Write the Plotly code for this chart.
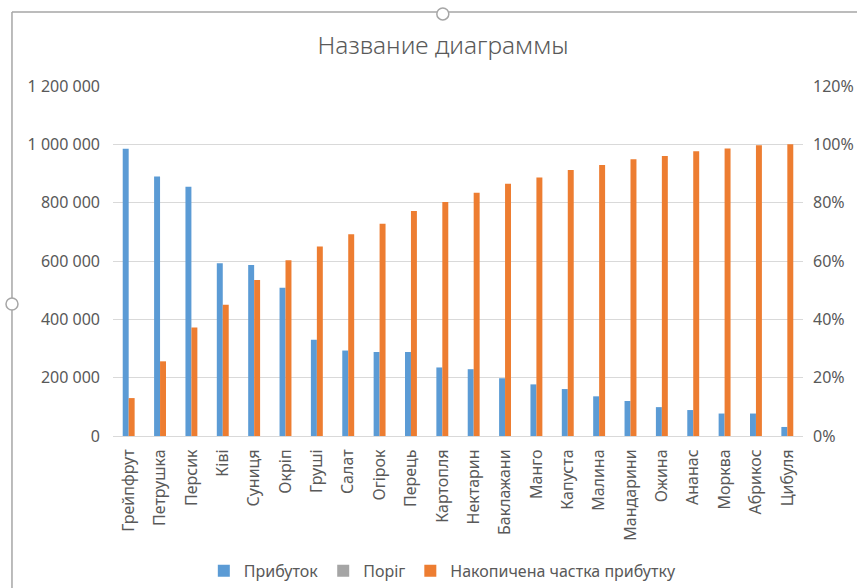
import plotly.graph_objects as go

categories = ["Грейпфрут", "Петрушка", "Персик", "Ківі", "Суниця", "Окріп", "Груші",
              "Салат", "Огірок", "Перець", "Картопля", "Нектарин", "Баклажани", "Манго",
              "Капуста", "Малина", "Мандарини", "Ожина", "Ананас", "Морква", "Абрикос", "Цибуля"]
profit = [985000, 890000, 855000, 592000, 586000, 508000, 330000, 293000, 288000, 288000,
          235000, 229000, 198000, 177000, 161000, 136000, 120000, 99000, 89000, 77000, 77000, 31000]
threshold = [0] * 22
cum_share = [0.130, 0.256, 0.372, 0.450, 0.535, 0.603, 0.650, 0.692, 0.728, 0.771,
             0.802, 0.834, 0.865, 0.886, 0.912, 0.929, 0.949, 0.960, 0.976, 0.986, 0.997, 1.000]
left_ticks = [0, 200000, 400000, 600000, 800000, 1000000, 1200000]
left_labels = ["0", "200 000", "400 000", "600 000", "800 000", "1 000 000", "1 200 000"]
right_ticks = [0, 0.2, 0.4, 0.6, 0.8, 1.0, 1.2]
right_labels = ["0%", "20%", "40%", "60%", "80%", "100%", "120%"]

FONT = "Noto Sans"
TXT = "#595959"
GRID = "#d9d9d9"
FRAME = "#a6a6a6"

fig = go.Figure()
fig.add_trace(go.Bar(x=categories, y=profit, name="Прибуток", marker_color="#5B9BD5",
                     marker_line_width=0, offset=-0.19, width=0.19, yaxis="y"))
fig.add_trace(go.Bar(x=categories, y=threshold, name="Поріг", marker_color="#A5A5A5",
                     marker_line_width=0, offset=0.0, width=0.01, yaxis="y"))
fig.add_trace(go.Bar(x=categories, y=cum_share, name="Накопичена частка прибутку",
                     marker_color="#ED7D31", marker_line_width=0, offset=0.0, width=0.19,
                     yaxis="y2"))

fig.update_layout(
    width=857, height=588,
    margin=dict(l=113, r=54, t=86, b=152, autoexpand=False),
    paper_bgcolor="white", plot_bgcolor="white",
    barmode="overlay",
    font=dict(family=FONT, color=TXT, size=16),
    title=dict(text="Название диаграммы", x=0.517, xanchor="center", y=0.923, yanchor="middle",
               font=dict(family=FONT, size=24.5, color=TXT, weight=300)),
    xaxis=dict(type="category", tickangle=-90, showgrid=False, showline=True, linecolor=GRID,
               ticks="", ticklabelstandoff=6, tickfont=dict(size=16, color=TXT)),
    yaxis=dict(range=[0, 1200000], tickvals=left_ticks, ticktext=left_labels, showgrid=True,
               gridcolor=GRID, zeroline=False, showline=False, ticks="", ticklabelstandoff=12,
               tickfont=dict(size=16, color=TXT)),
    yaxis2=dict(range=[0, 1.2], tickvals=right_ticks, ticktext=right_labels, overlaying="y",
                side="right", showgrid=False, zeroline=False, showline=False, ticks="",
                ticklabelstandoff=9, tickfont=dict(size=16, color=TXT)),
    legend=dict(orientation="h", x=0.478, xanchor="center", y=-0.385, yanchor="middle",
                font=dict(size=16, color=TXT), traceorder="normal", itemwidth=30),
    showlegend=True,
)

# Excel selection frame decorations
fig.add_shape(type="line", xref="paper", yref="paper", x0=-0.1464, x1=1.08, y0=1.2114, y1=1.2114,
              line=dict(color=FRAME, width=1.5))
fig.add_shape(type="line", xref="paper", yref="paper", x0=-0.1464, x1=-0.1464, y0=1.2114, y1=-0.44,
              line=dict(color=FRAME, width=1.5))
fig.add_shape(type="circle", xref="paper", yref="paper",
              x0=0.478 - 0.0087, x1=0.478 + 0.0087, y0=1.206 - 0.0171, y1=1.206 + 0.0171,
              fillcolor="white", line=dict(color=FRAME, width=1.5))
fig.add_shape(type="circle", xref="paper", yref="paper",
              x0=-0.1464 - 0.0087, x1=-0.1464 + 0.0087, y0=0.377 - 0.0171, y1=0.377 + 0.0171,
              fillcolor="white", line=dict(color=FRAME, width=1.5))

fig.write_html("out.html", config={"displayModeBar": False},
               post_script="document.body.style.margin='0px';document.body.style.padding='0px';")
